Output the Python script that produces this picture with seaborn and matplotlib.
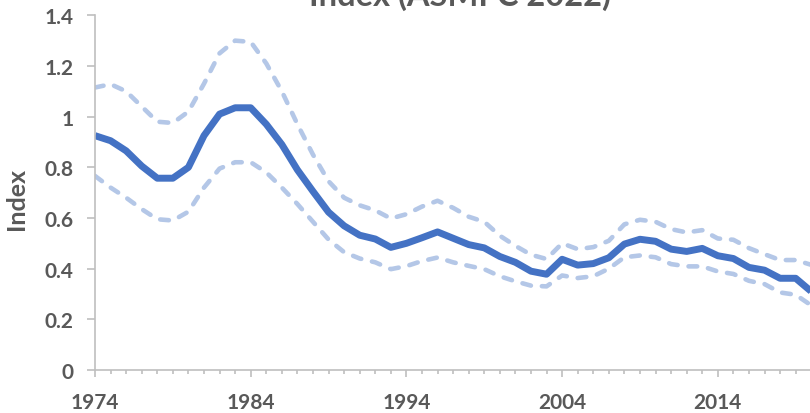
import matplotlib
matplotlib.use("Agg")
import matplotlib.pyplot as plt
from matplotlib.ticker import MultipleLocator, FuncFormatter
import seaborn as sns

years = list(range(1974, 2021))
index_mid = [0.925, 0.905, 0.865, 0.805, 0.757, 0.757, 0.80, 0.925, 1.01, 1.035,
             1.035, 0.97, 0.89, 0.79, 0.705, 0.623, 0.569, 0.532, 0.517, 0.484,
             0.50, 0.522, 0.545, 0.52, 0.495, 0.482, 0.448, 0.425, 0.39, 0.378,
             0.437, 0.414, 0.42, 0.443, 0.497, 0.516, 0.508, 0.477, 0.468, 0.48,
             0.451, 0.44, 0.405, 0.394, 0.362, 0.362, 0.31]
index_upper = [1.115, 1.128, 1.10, 1.04, 0.98, 0.975, 1.02, 1.13, 1.25, 1.30,
               1.295, 1.21, 1.10, 0.97, 0.85, 0.745, 0.68, 0.65, 0.63, 0.598,
               0.615, 0.645, 0.668, 0.64, 0.605, 0.585, 0.53, 0.49, 0.455, 0.438,
               0.50, 0.477, 0.485, 0.51, 0.575, 0.593, 0.585, 0.556, 0.543, 0.552,
               0.519, 0.514, 0.481, 0.457, 0.434, 0.434, 0.415]
index_lower = [0.766, 0.72, 0.68, 0.635, 0.595, 0.59, 0.625, 0.72, 0.795, 0.82,
               0.82, 0.78, 0.72, 0.655, 0.585, 0.515, 0.465, 0.44, 0.425, 0.398,
               0.41, 0.43, 0.444, 0.425, 0.411, 0.398, 0.37, 0.35, 0.333, 0.33,
               0.373, 0.363, 0.37, 0.40, 0.445, 0.452, 0.445, 0.418, 0.409, 0.409,
               0.389, 0.379, 0.352, 0.339, 0.306, 0.297, 0.255]

title = "Index (ASMFC 2022)"
ylabel = "Index"
x_major_ticks = [1974, 1984, 1994, 2004, 2014]

sns.set_style("white")
plt.rcParams["font.family"] = ["Lato", "DejaVu Sans"]
plt.rcParams["font.weight"] = "bold"

TEXT = "#595959"
AXC = "#BFBFBF"

fig = plt.figure(figsize=(8.1, 4.14), dpi=100)
ax = fig.add_axes([95 / 810, 43 / 414, 715 / 810, 354.7 / 414])

dash_kw = dict(color="#B4C7E7", linewidth=3.3, linestyle=(0, (1.9, 2.4)),
               dash_capstyle="round")
sns.lineplot(x=years, y=index_upper, ax=ax, **dash_kw)
sns.lineplot(x=years, y=index_lower, ax=ax, **dash_kw)
sns.lineplot(x=years, y=index_mid, ax=ax, color="#4472C4", linewidth=5.0,
             solid_joinstyle="round", solid_capstyle="butt")

ax.set_xlim(1974, 2019.92)
ax.set_ylim(0, 1.4)

ax.set_xticks(x_major_ticks)
ax.xaxis.set_minor_locator(MultipleLocator(1))
ax.yaxis.set_major_locator(MultipleLocator(0.2))
ax.yaxis.set_major_formatter(FuncFormatter(lambda v, p: f"{v:g}"))

for s in ["top", "right"]:
    ax.spines[s].set_visible(False)
for s in ["left", "bottom"]:
    ax.spines[s].set_color(AXC)
    ax.spines[s].set_linewidth(1.2)

ax.tick_params(axis="x", which="major", direction="out", length=5, width=1.2,
               color=AXC, labelsize=15, labelcolor=TEXT, pad=11, bottom=True)
ax.tick_params(axis="x", which="minor", direction="out", length=3, width=1.2,
               color=AXC, bottom=True)
ax.tick_params(axis="y", which="major", direction="out", length=5.5, width=1.2,
               color=AXC, labelsize=15, labelcolor=TEXT, pad=10, left=True)
for lab in ax.get_xticklabels() + ax.get_yticklabels():
    lab.set_fontweight("bold")

ax.set_xlabel("")
ax.set_ylabel(ylabel, fontsize=18, fontweight="bold", color=TEXT)
ax.yaxis.set_label_coords(-67 / 715, 0.485)

fig.text(460 / 810, 1 - 11 / 414, title, ha="center", va="bottom",
         fontsize=23.5, fontweight="bold", color=TEXT)

ax.grid(False)
fig.savefig("out.png", dpi=100)
